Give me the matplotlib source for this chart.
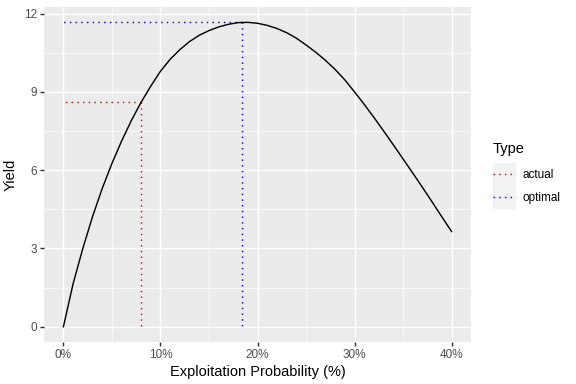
import matplotlib
matplotlib.use("Agg")
import matplotlib.pyplot as plt
from matplotlib.lines import Line2D
from matplotlib.patches import Rectangle
from matplotlib.legend_handler import HandlerLine2D
from matplotlib.ticker import FuncFormatter

plt.rcParams['font.family'] = ['Liberation Sans', 'DejaVu Sans']

# ---- data ----
exploitation_pct = list(range(0, 41))
yield_values = [0.00, 1.65, 3.00, 4.22, 5.30, 6.26, 7.12, 7.90, 8.60, 9.22,
                9.79, 10.25, 10.62, 10.93, 11.17, 11.35, 11.49, 11.59, 11.655, 11.665,
                11.63, 11.55, 11.43, 11.27, 11.06, 10.80, 10.52, 10.21, 9.86, 9.46,
                9.00, 8.52, 8.02, 7.50, 6.97, 6.43, 5.89, 5.34, 4.78, 4.21,
                3.65]
ref_types = ["actual", "optimal"]
ref_pct = [8.03, 18.37]
ref_yield = [8.62, 11.67]
x_ticks = [0, 10, 20, 30, 40]
y_ticks = [0, 3, 6, 9, 12]

type_colors = {"actual": "#FF0000", "optimal": "#0000FF"}
LW = 1.07

fig = plt.figure(figsize=(6, 4), dpi=96)
W, H = 576, 384
ax = fig.add_axes([44 / W, 1 - 342 / H, (471 - 44) / W, (342 - 7) / H])
ax.set_facecolor('#EBEBEB')
for s in ax.spines.values():
    s.set_visible(False)

# ggplot-like 5% expansion
xmin, xmax = min(exploitation_pct), max(exploitation_pct)
ymin, ymax = 0, max(max(yield_values), max(ref_yield))
ax.set_xlim(xmin - 0.05 * (xmax - xmin), xmax + 0.05 * (xmax - xmin))
ax.set_ylim(ymin - 0.05 * (ymax - ymin), ymax + 0.05 * (ymax - ymin))

ax.set_xticks(x_ticks)
ax.set_yticks(y_ticks)
ax.set_xticks([(a + b) / 2 for a, b in zip(x_ticks[:-1], x_ticks[1:])], minor=True)
ax.set_yticks([(a + b) / 2 for a, b in zip(y_ticks[:-1], y_ticks[1:])], minor=True)
ax.xaxis.set_major_formatter(FuncFormatter(lambda v, p: f"{v:.0f}%"))
ax.grid(which='major', color='white', lw=LW)
ax.grid(which='minor', color='white', lw=LW / 2)
ax.set_axisbelow(True)
ax.tick_params(which='major', length=2.75, width=LW, color='#333333',
               labelsize=8.8, labelcolor='#4D4D4D', pad=2.2)
ax.tick_params(which='minor', length=0)

ax.plot(exploitation_pct, yield_values, color='black', lw=LW, zorder=3)

for t, u, yv in zip(ref_types, ref_pct, ref_yield):
    c = type_colors[t]
    ax.plot([u, 0], [yv, yv], color=c, lw=LW, dashes=(1, 3), zorder=2)
    ax.plot([u, u], [yv, 0], color=c, lw=LW, dashes=(1, 3), zorder=2)

ax.set_xlabel('Exploitation Probability (%)', fontsize=11, labelpad=3)
ax.set_ylabel('Yield', fontsize=11, labelpad=5)


class KeyHandler(HandlerLine2D):
    def create_artists(self, legend, orig_handle, xdescent, ydescent,
                       width, height, fontsize, trans):
        rect = Rectangle((-xdescent, -ydescent), width, height,
                         facecolor='#F2F2F2', edgecolor='none', transform=trans)
        arts = list(super().create_artists(legend, orig_handle, xdescent, ydescent,
                                           width, height, fontsize, trans))
        yc = height / 2 - ydescent
        for a in arts:
            a.set_ydata([yc] * len(a.get_xdata()))
        return [rect] + arts


handles = [Line2D([], [], color=type_colors[t], lw=LW, dashes=(1, 3)) for t in ref_types]
fs = 8.8
key_w = 17.28 / fs
key_h = (17.28 - 0.35 * 0.7 * fs) / (0.65 * fs)
leg = fig.legend(handles, ref_types, title='Type', loc='upper left',
                 bbox_to_anchor=(492.5 / W, 1 - 142 / H), frameon=False,
                 fontsize=fs, title_fontsize=11, handlelength=key_w, handleheight=key_h,
                 labelspacing=0, handletextpad=5.5 / fs, borderpad=0, borderaxespad=0,
                 alignment='left', handler_map={Line2D: KeyHandler()})
leg._legend_box.sep = 5

fig.savefig('out.png', dpi=96)
